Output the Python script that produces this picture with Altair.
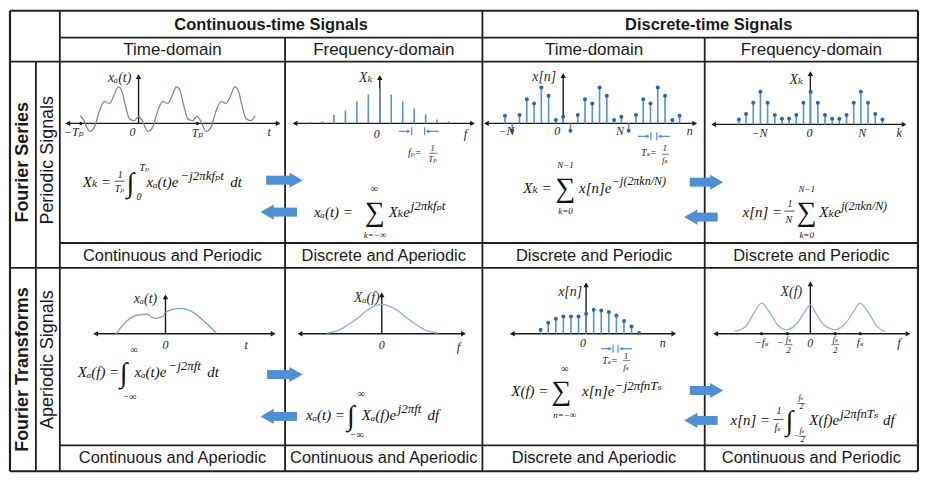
import altair as alt
import pandas as pd

SANS = "Liberation Sans, Arial, sans-serif"
SERIF = "Liberation Serif, DejaVu Serif, serif"
INK = "#1a1a1a"
BLUE = "#4f8fd3"
STEM = "#5a8fd0"
DOT = "#2f63ad"

# ---------------- text content ----------------
group_titles = ["Continuous-time Signals", "Discrete-time Signals"]
domain_titles = ["Time-domain", "Frequency-domain", "Time-domain", "Frequency-domain"]
row_titles = ["Fourier Series", "Fourier Transforms"]
row_subtitles = ["Periodic Signals", "Aperiodic Signals"]
periodic_props = ["Continuous and Periodic", "Discrete and Aperiodic",
                  "Discrete and Periodic", "Discrete and Periodic"]
aperiodic_props = ["Continuous and Aperiodic", "Continuous and Aperiodic",
                   "Discrete and Aperiodic", "Continuous and Periodic"]

# ---------------- signal values ----------------
# A: periodic continuous signal x_a(t), t in units of Tp
sigA_t = [-1.00, -0.95, -0.84, -0.76, -0.67, -0.585, -0.50, -0.415, -0.35, -0.29, -0.23, -0.16, -0.075,
          0.00, 0.05, 0.16, 0.24, 0.33, 0.415, 0.50, 0.585, 0.65, 0.71, 0.77, 0.84, 0.925,
          1.00, 1.05, 1.16, 1.24, 1.33, 1.415, 1.50, 1.585, 1.65, 1.71, 1.77, 1.84, 1.925, 2.00]
sigA_x = [7.7, 4, -8, -4, 12.7, 22, 20, 29, 36.7, 33, 19, 5, 2.7,
          6.7, 4, -8, -4, 12.7, 22, 20, 29.3, 36.7, 33, 19, 5, 2.7,
          7, 4, -8, -4, 12.7, 22, 20, 29, 36.7, 33, 19, 5, 2.7, 7.7]
# B: Fourier series coefficients X_k
sigB_k = [-6, -5, -4, -3, -2, -1, 0, 1, 2, 3, 4, 5, 6]
sigB_X = [1.5, 2, 8.7, 13, 22, 29, 35, 29, 22, 15, 9, 4, 2]
# C: periodic discrete signal x[n]
sigC_n = list(range(-8, 17))
sigC_x = [7.7, -7.3, 8.3, 24.3, 20, 36, 27.7, 3.3,
          6.7, -7.3, 8.3, 24.3, 20, 36, 27.7, 3.3,
          6.7, -7.3, 8.3, 24.3, 20, 36, 27.7, 3.3, 7.7]
# D: DFS coefficients X_k
sigD_k = list(range(-10, 11))
sigD_X = [5, 10.3, 21.7, 32.7, 21.7, 9.3, 5.7, 5.7, 9.3, 21.7, 32.7,
          21.7, 9.3, 5.7, 5.7, 9.3, 21.7, 32.7, 21.7, 10.3, 5]
# E: aperiodic continuous signal x_a(t)
sigE_t = [-5.0, -3.9, -2.9, -1.9, -1.1, -0.4, 0.0, 0.7, 1.6, 2.6, 3.4, 4.2, 5.1]
sigE_x = [0, 13, 19, 20, 16, 17, 22, 25, 26, 23, 17, 10, 1]
# F: Fourier transform X_a(f)
sigF_f = [-5.5, -4.3, -3.3, -2.3, -1.6, -0.8, 0.0, 0.8, 1.7, 2.4, 3.4, 4.4, 5.7]
sigF_X = [1, 4, 10, 17, 23, 28, 30, 28, 23, 17, 10, 4, 1]
# G: aperiodic discrete signal x[n]
sigG_n = list(range(-6, 8))
sigG_x = [4, 11, 15, 17.3, 17.3, 17.3, 20, 24, 23.3, 21.7, 18.3, 12.7, 7.3, 0.7]
# H: DTFT X(f), f in units of fs
sigH_f = [-1.52, -1.30, -1.13, -0.98, -0.83, -0.66, -0.48, -0.26, -0.13, 0.0,
          0.11, 0.27, 0.50, 0.71, 0.87, 1.00, 1.17, 1.34, 1.50]
sigH_X = [2.3, 7.3, 20.7, 30.7, 22.3, 9, 4, 10.7, 20.7, 29,
          20.7, 9, 4, 10.7, 22.3, 30.7, 20.7, 7.3, 2.3]

# ---------------- helpers ----------------
def px_x():
    return alt.Scale(domain=[0, 927], range=[-8, 919], nice=False, zero=False)

def px_y():
    return alt.Scale(domain=[0, 481], range=[-8, 473], nice=False, zero=False)

def lin(d0, d1, r0, r1):
    return alt.Scale(domain=[d0, d1], range=[r0 - 8, r1 - 8], nice=False, zero=False)

def texts(rows, align="center", weight="normal", style="normal", font=SANS, color=INK, angle=0):
    df = pd.DataFrame(rows, columns=["text", "x", "y", "size"])
    return alt.Chart(df).mark_text(align=align, baseline="middle", font=font, fontWeight=weight,
                                   fontStyle=style, color=color, angle=angle).encode(
        x=alt.X("x:Q", scale=px_x(), axis=None),
        y=alt.Y("y:Q", scale=px_y(), axis=None),
        text="text:N",
        size=alt.Size("size:Q", scale=None))

def rules(rows, color=INK, cap="butt"):
    df = pd.DataFrame(rows, columns=["x", "y", "x2", "y2", "w"])
    return alt.Chart(df).mark_rule(color=color, strokeCap=cap).encode(
        x=alt.X("x:Q", scale=px_x(), axis=None),
        y=alt.Y("y:Q", scale=px_y(), axis=None),
        x2="x2:Q", y2="y2:Q",
        strokeWidth=alt.StrokeWidth("w:Q", scale=None))

def heads(rows, color=INK):
    df = pd.DataFrame(rows, columns=["x", "y", "shape", "size"])
    return alt.Chart(df).mark_point(filled=True, color=color, opacity=1, strokeWidth=0).encode(
        x=alt.X("x:Q", scale=px_x(), axis=None),
        y=alt.Y("y:Q", scale=px_y(), axis=None),
        shape=alt.Shape("shape:N", scale=None),
        size=alt.Size("size:Q", scale=None))

def curve(t, v, xs, ys, color, width=1.3):
    df = pd.DataFrame({"t": t, "v": v})
    return alt.Chart(df).mark_line(color=color, strokeWidth=width, interpolate="monotone").encode(
        x=alt.X("t:Q", scale=xs, axis=None), y=alt.Y("v:Q", scale=ys, axis=None))

def stems(n, v, xs, ys, color=STEM, marker=True):
    df = pd.DataFrame({"n": n, "v": v})
    out = [alt.Chart(df).mark_rule(color=color, strokeWidth=1.6).encode(
        x=alt.X("n:Q", scale=xs, axis=None), y=alt.Y("v:Q", scale=ys, axis=None), y2=alt.datum(0))]
    if marker:
        out.append(alt.Chart(df).mark_point(filled=True, shape="circle", size=16, color=DOT, opacity=1).encode(
            x=alt.X("n:Q", scale=xs, axis=None), y=alt.Y("v:Q", scale=ys, axis=None)))
    return out

layers = []

# ---------------- table grid ----------------
grid = [
    (10, 10, 921, 10, 2.2), (10, 472, 921, 472, 2.2), (10, 10, 10, 472, 2.2), (921, 10, 921, 472, 2.2),
    (60, 37, 921, 37, 1.8), (10, 61, 921, 61, 1.8), (60, 243, 921, 243, 1.8), (10, 268, 921, 268, 1.8),
    (60, 446, 921, 446, 1.8), (36, 61, 36, 472, 1.8), (60, 10, 60, 472, 1.8), (286, 37, 286, 472, 1.8),
    (484, 10, 484, 472, 1.8), (707, 37, 707, 472, 1.8),
]
layers.append(rules(grid, color="#202020"))

# ---------------- headers / labels ----------------
layers.append(texts([(group_titles[0], 272, 24, 16.5), (group_titles[1], 711, 24, 16.5)], weight="bold"))
col_cx = [173, 385, 596, 814]
layers.append(texts([(t, c, 49, 17) for t, c in zip(domain_titles, col_cx)]))
layers.append(texts([(t, c, 256, 16.5) for t, c in zip(periodic_props, col_cx)]
                    + [(t, c, 459, 16.5) for t, c in zip(aperiodic_props, col_cx)]))
layers.append(texts([(row_titles[0], 23, 162, 18), (row_titles[1], 23, 370, 18)], weight="bold", angle=270))
layers.append(texts([(row_subtitles[0], 48, 160, 18), (row_subtitles[1], 48, 360, 18)], angle=270))

# ---------------- plot axes (black arrows) ----------------
axes = [
    (67, 123, 280, 123, 1.4), (139, 123, 139, 75, 1.4),
    (295, 123, 475, 123, 1.4), (381, 123, 381, 76, 1.4),
    (487, 123, 698, 123, 1.4), (565, 123, 565, 74, 1.4),
    (715, 124, 908, 124, 1.4), (813, 124, 813, 72, 1.4),
    (95, 334, 275, 334, 1.4), (166, 334, 166, 296, 1.4),
    (300, 334, 466, 334, 1.4), (383, 334, 383, 294, 1.4),
    (513, 334, 677, 334, 1.4), (588, 334, 588, 284, 1.4),
    (717, 334, 912, 334, 1.4), (813, 334, 813, 283, 1.4),
]
layers.append(rules(axes))
ah = []
for (x0, y0, x1, y1, _w) in axes:
    if y0 == y1:
        ah.append((x0 + 1, y0, "triangle-left", 30))
        ah.append((x1 - 1, y1, "triangle-right", 30))
    else:
        ah.append((x1, y1 + 1, "triangle-up", 30))
ticks = [(81, 123, "circle", 10), (198, 123, "circle", 10),
         (764, 334, "circle", 10), (790, 334, "circle", 10), (838, 334, "circle", 10), (863, 334, "circle", 10)]
layers.append(heads(ah + ticks))

# ---------------- signals ----------------
layers.append(curve(sigA_t, sigA_x, lin(0, 1, 139, 197.5), lin(0, 40, 123, 83), "#967f93"))
layers += stems(sigB_k, sigB_X, lin(0, 1, 381, 392.5), lin(0, 35, 123, 88), marker=False)
layers += stems(sigC_n, sigC_x, lin(0, 1, 565, 572.3), lin(0, 36, 123, 87))
layers += stems(sigD_k, sigD_X, lin(0, 1, 813.3, 820.5), lin(0, 32.7, 124, 91.3))
eL = [i for i, t in enumerate(sigE_t) if t <= 0]
eR = [i for i, t in enumerate(sigE_t) if t >= 0]
layers.append(curve([sigE_t[i] for i in eL], [sigE_x[i] for i in eL], lin(0, 1, 166, 176), lin(0, 26, 334.5, 308.5), "#a59a93"))
layers.append(curve([sigE_t[i] for i in eR], [sigE_x[i] for i in eR], lin(0, 1, 166, 176), lin(0, 26, 334.5, 308.5), "#6f9fd6"))
layers.append(curve(sigF_f, sigF_X, lin(0, 1, 383, 393), lin(0, 30, 334.5, 304.5), "#86b1dc"))
layers += stems(sigG_n, sigG_x, lin(0, 1, 588, 595.6), lin(0, 24, 334, 310))
layers.append(curve(sigH_f, sigH_X, lin(0, 1, 813, 863), lin(0, 30.7, 334, 303.3), "#8fb6cf"))

# ---------------- spacing annotations (blue) ----------------
ann = [
    (400, 131, 411, 131, 1.2), (413, 127, 413, 135, 1.2), (426, 127, 426, 135, 1.2), (428, 131, 440, 131, 1.2),
    (640, 136, 651, 136, 1.2), (653, 132, 653, 140, 1.2), (659, 132, 659, 140, 1.2), (661, 136, 672, 136, 1.2),
    (603, 349, 613, 349, 1.2), (615, 345, 615, 353, 1.2), (620, 345, 620, 353, 1.2), (622, 349, 634, 349, 1.2),
]
layers.append(rules(ann, color=BLUE))
layers.append(heads([(410, 131, "triangle-right", 14), (429, 131, "triangle-left", 14),
                     (650, 136, "triangle-right", 14), (662, 136, "triangle-left", 14),
                     (612, 349, "triangle-right", 14), (623, 349, "triangle-left", 14)], color=BLUE))

# ---------------- block arrows between domains ----------------
shafts = [
    (267, 180, 292, 180, 9), (273, 212, 298, 212, 9),
    (692, 182, 714, 182, 9), (698, 217, 720, 217, 9),
    (268, 375, 292, 375, 9), (273, 417, 298, 417, 9),
    (692, 391, 714, 391, 9), (698, 421, 720, 421, 9),
]
layers.append(rules(shafts, color=BLUE))
layers.append(heads([(297, 180, "triangle-right", 230), (268, 212, "triangle-left", 230),
                     (719, 182, "triangle-right", 230), (693, 217, "triangle-left", 230),
                     (297, 375, "triangle-right", 230), (268, 417, "triangle-left", 230),
                     (719, 391, "triangle-right", 230), (693, 421, "triangle-left", 230)], color=BLUE))

# ---------------- axis labels of the small plots ----------------
plot_labels = [
    ("xₐ(t)", 120, 77, 14), ("−Tₚ", 74, 132, 12), ("0", 133, 132, 12), ("Tₚ", 198, 133, 12), ("t", 270, 132, 12),
    ("Xₖ", 367, 77, 14), ("0", 378, 134, 12), ("f", 467, 134, 13),
    ("x[n]", 546, 76, 14), ("−N", 508, 131, 12), ("0", 559, 131, 12), ("N", 622, 131, 12), ("n", 692, 131, 12),
    ("Xₖ", 799, 79, 14), ("−N", 762, 133, 12), ("0", 812, 133, 12), ("N", 865, 133, 12), ("k", 902, 133, 12),
    ("xₐ(t)", 146, 299, 14), ("0", 166, 345, 12), ("t", 247, 345, 12),
    ("Xₐ(f)", 368, 298, 14), ("0", 383, 345, 12), ("f", 460, 347, 13),
    ("x[n]", 572, 292, 14), ("0", 585, 343, 12), ("n", 665, 343, 12),
    ("X(f)", 794, 292, 14), ("−fₛ", 764, 343, 11), ("−", 783, 343, 10), ("fₛ", 791, 339, 9), ("2", 791, 350, 9),
    ("0", 813, 343, 12), ("fₛ", 838, 339, 9), ("2", 838, 350, 9), ("fₛ", 863, 343, 11), ("f", 902, 343, 13),
    ("fₚ=", 416, 153, 10), ("1", 434, 148, 9), ("Tₚ", 434, 159, 9),
    ("Tₛ=", 651, 153, 10), ("1", 667, 148, 9), ("fₛ", 667, 160, 9),
    ("Tₛ=", 612, 361, 10), ("1", 628, 356, 9), ("fₛ", 628, 367, 9),
]
layers.append(texts(plot_labels, font=SERIF, style="italic", color="#2a2a2a"))

# ---------------- formulas ----------------
formula = [
    # Xk = 1/Tp ∫ xa(t) e^{-j2πkfpt} dt
    ("Xₖ =", 83, 182, 15), ("1", 118, 175, 10), ("Tₚ", 115, 189, 10),
    ("Tₚ", 140, 168, 10), ("0", 137, 197, 10), ("xₐ(t)e", 147, 182, 15),
    ("−j2πkfₚt", 181, 176, 13), ("dt", 231, 182, 15),
    # xa(t) = Σ Xk e^{j2πkfpt}
    ("xₐ(t) =", 315, 212, 15), ("∞", 372, 189, 10), ("k=−∞", 365, 235, 9),
    ("Xₖe", 390, 212, 15), ("j2πkfₚt", 412, 206, 13),
    # Xk = Σ x[n] e^{-j(2πkn/N)}
    ("Xₖ =", 525, 188, 15), ("N−1", 559, 165, 9), ("k=0", 560, 211, 9),
    ("x[n]e", 581, 188, 15), ("−j(2πkn/N)", 614, 181, 12),
    # x[n] = 1/N Σ Xk e^{j(2πkn/N)}
    ("x[n] =", 745, 212, 15), ("1", 790, 204, 10), ("N", 788, 220, 10),
    ("N−1", 801, 189, 9), ("k=0", 802, 235, 9), ("Xₖe", 822, 212, 15), ("j(2πkn/N)", 844, 206, 12),
    # Xa(f) = ∫ xa(t) e^{-j2πft} dt
    ("Xₐ(f) =", 78, 372, 15), ("∞", 131, 350, 10), ("−∞", 123, 398, 10),
    ("xₐ(t)e", 135, 372, 15), ("−j2πft", 169, 366, 13), ("dt", 208, 372, 15),
    # xa(t) = ∫ Xa(f) e^{j2πft} df
    ("xₐ(t) =", 307, 416, 15), ("∞", 359, 395, 10), ("−∞", 351, 436, 10),
    ("Xₐ(f)e", 363, 416, 15), ("j2πft", 399, 410, 13), ("df", 429, 416, 15),
    # X(f) = Σ x[n] e^{-j2πfnTs}
    ("X(f) =", 513, 392, 15), ("∞", 563, 369, 10), ("n=−∞", 555, 416, 9),
    ("x[n]e", 584, 392, 15), ("−j2πfnTₛ", 617, 386, 13),
    # x[n] = 1/fs ∫ X(f) e^{j2πfnTs} df
    ("x[n] =", 733, 421, 15), ("1", 779, 412, 10), ("fₛ", 777, 429, 10),
    ("fₛ", 801, 399, 8), ("2", 802, 408, 8), ("−", 796, 437, 8), ("fₛ", 802, 432, 8), ("2", 803, 441, 8),
    ("X(f)e", 812, 421, 15), ("j2πfnTₛ", 843, 415, 13), ("df", 886, 421, 15),
]
layers.append(texts(formula, align="left", font=SERIF, style="italic", color="#111111"))
bigops = [
    ("∫", 127, 184, 28), ("∑", 366, 213, 28), ("∑", 557, 189, 28), ("∑", 799, 213, 28),
    ("∫", 120, 374, 28), ("∫", 348, 418, 28), ("∑", 553, 393, 28), ("∫", 788, 423, 28),
]
layers.append(texts(bigops, align="left", font=SERIF, color="#111111"))
bars = [
    (115, 181, 125, 181, 0.8), (787, 211, 797, 211, 0.8), (776, 420, 786, 420, 0.8),
    (800, 404, 808, 404, 0.6), (801, 437, 809, 437, 0.6),
    (431, 153, 439, 153, 0.6), (664, 154, 671, 154, 0.6), (625, 361, 632, 361, 0.6),
    (787, 345, 795, 345, 0.6), (834, 345, 842, 345, 0.6),
]
layers.append(rules(bars, color="#222222"))

chart = alt.layer(*layers).resolve_scale(x="independent", y="independent").properties(
    width=914, height=465, padding=0, background="white",
    autosize=alt.AutoSizeParams(type="none"),
).configure_view(stroke=None)

chart.save("out.html", embed_options={"renderer": "svg", "actions": False})
